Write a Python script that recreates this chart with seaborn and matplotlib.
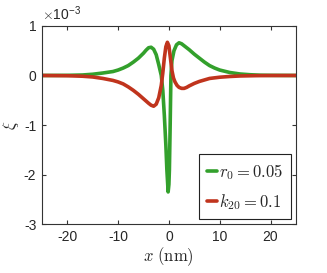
import matplotlib
matplotlib.use("Agg")
import matplotlib.pyplot as plt
import seaborn as sns
import pandas as pd

# values in units of 1e-3
x_green = [-25, -20, -17, -15, -13, -11, -10, -9, -8, -7, -6, -5, -4.5, -4, -3.5, -3, -2.5, -2,
           -1.5, -1.2, -0.9, -0.6, -0.4, -0.15, 0.0, 0.1, 0.25, 0.4, 0.6, 1, 1.5, 2, 2.5, 3, 4,
           5, 6, 7, 8, 9, 10, 12, 14, 16, 18, 20, 25]
y_green = [0, 0.003, 0.01, 0.025, 0.05, 0.08, 0.11, 0.15, 0.2, 0.27, 0.35, 0.45, 0.51, 0.56, 0.57,
           0.53, 0.42, 0.22, 0.0, -0.3, -0.8, -1.4, -1.9, -2.35, -2.2, -1.9, -1.0, 0.0, 0.3, 0.5,
           0.62, 0.66, 0.64, 0.6, 0.52, 0.43, 0.35, 0.27, 0.2, 0.15, 0.11, 0.06, 0.03, 0.015,
           0.006, 0.003, 0]

x_red = [-25, -20, -17, -15, -13, -11, -10, -9, -8, -7, -6, -5, -4, -3.5, -3, -2.5, -2, -1.5,
         -1.2, -0.9, -0.6, -0.3, 0.0, 0.3, 0.6, 0.9, 1.2, 1.6, 2, 2.5, 3, 3.5, 4, 5, 6, 7, 8,
         10, 12, 14, 17, 20, 25]
y_red = [0, -0.005, -0.015, -0.03, -0.06, -0.1, -0.13, -0.17, -0.23, -0.3, -0.38, -0.47, -0.56,
         -0.6, -0.62, -0.58, -0.45, -0.2, 0.05, 0.35, 0.58, 0.67, 0.6, 0.35, 0.1, -0.05, -0.13,
         -0.2, -0.24, -0.26, -0.26, -0.24, -0.21, -0.16, -0.12, -0.09, -0.06, -0.035, -0.02,
         -0.01, -0.004, -0.001, 0]

labels = [r'$r_0 = 0.05$', r'$k_{20} = 0.1$']
colors = ['#33a02c', '#c0341d']

df = pd.concat([
    pd.DataFrame({'x': x_green, 'y': y_green, 'curve': labels[0]}),
    pd.DataFrame({'x': x_red, 'y': y_red, 'curve': labels[1]}),
])

sns.set_style('ticks')
plt.rcParams['font.family'] = ['Liberation Sans', 'DejaVu Sans']
plt.rcParams['mathtext.fontset'] = 'cm'
plt.rcParams['axes.unicode_minus'] = False

fig = plt.figure(figsize=(3.27, 2.73), dpi=100)
ax = fig.add_axes([0.128, 0.179, 0.777, 0.726])
sns.lineplot(data=df, x='x', y='y', hue='curve', palette=colors, linewidth=2.6,
             sort=False, ax=ax)

ax.set_xlim(-25, 25)
ax.set_ylim(-3, 1)
ax.set_xticks([-20, -10, 0, 10, 20])
ax.set_yticks([-3, -2, -1, 0, 1])
ax.tick_params(direction='in', top=True, right=True, labelsize=10, length=3,
               color='#333333', pad=4)
for s in ax.spines.values():
    s.set_visible(True)
    s.set_color('#333333')
    s.set_linewidth(0.8)

ax.set_xlabel(r'$x\ \mathrm{(nm)}$', fontsize=12, labelpad=1)
ax.set_ylabel(r'$\xi$', fontsize=12, labelpad=2)
ax.text(0.0, 1.015, r'$\times$10$^{\mathregular{-3}}$', transform=ax.transAxes,
        fontsize=10, ha='left', va='bottom')

leg = ax.legend(loc='lower right', fontsize=12, handlelength=0.6, handletextpad=0.15,
                borderpad=0.45, labelspacing=0.6, fancybox=False, framealpha=1,
                edgecolor='#222222', borderaxespad=0.3)
leg.get_frame().set_linewidth(0.8)

fig.savefig('out.png', dpi=100)
